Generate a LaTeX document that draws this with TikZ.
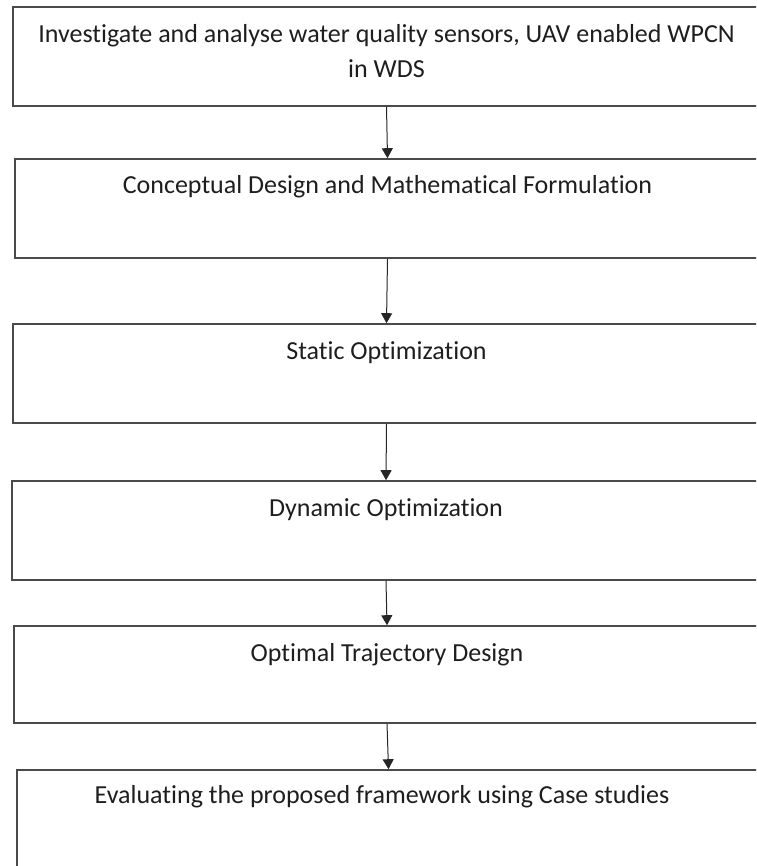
\documentclass[tikz,border=0pt]{standalone}
\usepackage{fontspec}
\setmainfont{Carlito}[Ligatures=NoCommon]
\usetikzlibrary{arrows.meta}
\definecolor{boxline}{HTML}{4A4A4A}
\definecolor{inktext}{HTML}{1E1E1E}
\tikzset{
  stepbox/.style={draw=boxline, line width=1.6pt, inner sep=0pt, fill=none},
  steptext/.style={anchor=base, inner sep=0pt, align=center, text=inktext,
    font=\fontsize{26}{35}\selectfont},
  flow/.style={draw=black!85, line width=1pt,
    -{Triangle[width=11pt,length=10pt]}}
}
\begin{document}
\begin{tikzpicture}[x=1pt, y=-1pt]
  \useasboundingbox (0,0) rectangle (756,866);
  \clip (0,0) rectangle (756,866);

  % process boxes (right edges run past the page edge)
  \node[stepbox, minimum width=747pt, minimum height=99pt] (b1) at (386.5,56.5) {};
  \node[stepbox, minimum width=745pt, minimum height=99pt] (b2) at (387.5,208.5) {};
  \node[stepbox, minimum width=747pt, minimum height=99pt] (b3) at (386.5,373.5) {};
  \node[stepbox, minimum width=748pt, minimum height=99pt] (b4) at (386,530.5) {};
  \node[stepbox, minimum width=746pt, minimum height=97pt] (b5) at (387,674.5) {};
  \node[stepbox, minimum width=743pt, minimum height=99pt] (b6) at (388.5,819.5) {};

  % step labels (base anchor sits on the last line)
  \node[steptext] (t1) at (386.5,78) {Investigate and analyse water quality sensors, UAV enabled WPCN\\in WDS};
  \node[steptext] (t2) at (387.5,194) {Conceptual Design and Mathematical Formulation};
  \node[steptext] (t3) at (386.5,359) {Static Optimization};
  \node[steptext] (t4) at (386,516) {Dynamic Optimization};
  \node[steptext] (t5) at (387,661) {Optimal Trajectory Design};
  \node[steptext] (t6) at (382,803) {Evaluating the proposed framework using Case studies};

  % flow between steps
  \draw[flow] (b1.south) -- (b2.north);
  \draw[flow] (b2.south) -- (b3.north);
  \draw[flow] (b3.south) -- (b4.north);
  \draw[flow] (b4.south) -- (b5.north);
  \draw[flow] (b5.south) -- (b6.north);
\end{tikzpicture}
\end{document}
